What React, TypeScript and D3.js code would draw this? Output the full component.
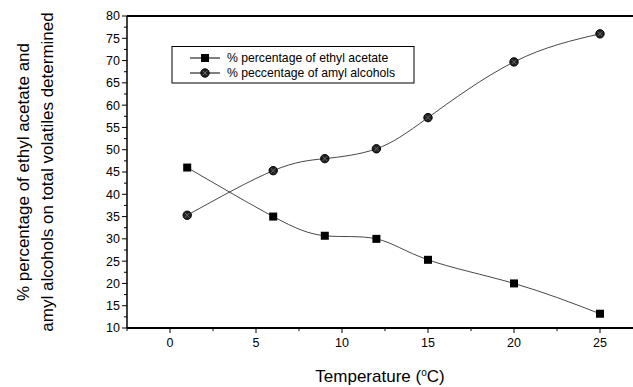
import React from 'react'
import * as d3 from 'd3'

const temps = [1, 6, 9, 12, 15, 20, 25]
const ethylAcetate = [46, 35, 30.7, 30, 25.3, 20, 13.2]
const amylAlcohols = [35.3, 45.3, 48, 50.2, 57.2, 69.7, 76]
const xTicks = [0, 5, 10, 15, 20, 25]
const yTicks = [10, 15, 20, 25, 30, 35, 40, 45, 50, 55, 60, 65, 70, 75, 80]
const legendLabels = ['% percentage of ethyl acetate', '% peccentage of amyl alcohols']

const W = 633
const H = 387
const left = 127
const right = 643
const top = 16
const bottom = 328

const App = () => {
  const x = d3.scaleLinear().domain([-2.5, 27.5]).range([left, right])
  const y = d3.scaleLinear().domain([10, 80]).range([bottom, top])

  const line = d3.line<[number, number]>()
    .x(d => x(d[0]))
    .y(d => y(d[1]))
    .curve(d3.curveNatural)

  const ethylPts = temps.map((t, i) => [t, ethylAcetate[i]] as [number, number])
  const amylPts = temps.map((t, i) => [t, amylAlcohols[i]] as [number, number])

  const xMinor = d3.range(-2.5, 28, 2.5).filter(v => !xTicks.includes(v))
  const yMinor = d3.range(12.5, 80, 5)

  const font = 'Liberation Sans, Arial, sans-serif'

  const square = (cx: number, cy: number, key: string) => (
    <rect key={key} x={cx - 4} y={cy - 4} width={8} height={8} fill="#000" />
  )
  const circ = (cx: number, cy: number, key: string) => (
    <g key={key}>
      <circle cx={cx} cy={cy} r={4.2} fill="#222" stroke="#000" strokeWidth={1} />
      <path d={`M${cx - 2.3},${cy - 2.3}L${cx + 2.3},${cy + 2.3}M${cx + 2.3},${cy - 2.3}L${cx - 2.3},${cy + 2.3}`} stroke="#777" strokeWidth={0.8} />
    </g>
  )

  return (
    <svg width={W} height={H} style={{ position: 'absolute', left: 0, top: 0, background: '#fff' }}
      fontFamily={font}>
      {/* frame */}
      <line x1={left} x2={right} y1={top} y2={top} stroke="#000" strokeWidth={1.8} />
      <line x1={left} x2={right} y1={bottom} y2={bottom} stroke="#000" strokeWidth={2} />
      <line x1={left} x2={left} y1={top} y2={bottom} stroke="#000" strokeWidth={1.5} />

      {/* y axis ticks */}
      {yTicks.map(v => (
        <g key={'y' + v}>
          <line x1={left - 5} x2={left} y1={y(v)} y2={y(v)} stroke="#000" strokeWidth={1} />
          <text x={left - 7} y={y(v)} dy="0.35em" textAnchor="end" fontSize={12.5}>{v}</text>
        </g>
      ))}
      {yMinor.map(v => (
        <line key={'ym' + v} x1={left - 3} x2={left} y1={y(v)} y2={y(v)} stroke="#000" strokeWidth={1} />
      ))}

      {/* x axis ticks */}
      {xTicks.map(v => (
        <g key={'x' + v}>
          <line x1={x(v)} x2={x(v)} y1={bottom} y2={bottom + 5} stroke="#000" strokeWidth={1} />
          <text x={x(v)} y={bottom + 19} textAnchor="middle" fontSize={12.5}>{v}</text>
        </g>
      ))}
      {xMinor.map(v => (
        <line key={'xm' + v} x1={x(v)} x2={x(v)} y1={bottom} y2={bottom + 3} stroke="#000" strokeWidth={1} />
      ))}

      {/* curves */}
      <path d={line(ethylPts) || ''} fill="none" stroke="#333" strokeWidth={0.9} />
      <path d={line(amylPts) || ''} fill="none" stroke="#333" strokeWidth={0.9} />
      {ethylPts.map((p, i) => square(x(p[0]), y(p[1]), 'e' + i))}
      {amylPts.map((p, i) => circ(x(p[0]), y(p[1]), 'a' + i))}

      {/* legend */}
      <rect x={172} y={46.5} width={242} height={36.5} fill="#fff" stroke="#000" strokeWidth={1} />
      <line x1={190} x2={220} y1={58} y2={58} stroke="#000" strokeWidth={1} />
      {square(205, 58, 'ls')}
      <text x={227} y={58} dy="0.35em" fontSize={12.2}>{legendLabels[0]}</text>
      <line x1={190} x2={220} y1={73} y2={73} stroke="#000" strokeWidth={1} />
      {circ(205, 73, 'lc')}
      <text x={227} y={73} dy="0.35em" fontSize={12.2}>{legendLabels[1]}</text>

      {/* axis titles */}
      <text transform="translate(29,172) rotate(-90)" textAnchor="middle" fontSize={17}>
        % percentage of ethyl acetate and
      </text>
      <text transform="translate(53,172) rotate(-90)" textAnchor="middle" fontSize={17}>
        amyl alcohols on total volatiles determined
      </text>
      <text x={380} y={382} textAnchor="middle" fontSize={17}>
        Temperature (<tspan dy="-6" fontSize={10}>o</tspan><tspan dy="6">C)</tspan>
      </text>
    </svg>
  )
}

export default App
